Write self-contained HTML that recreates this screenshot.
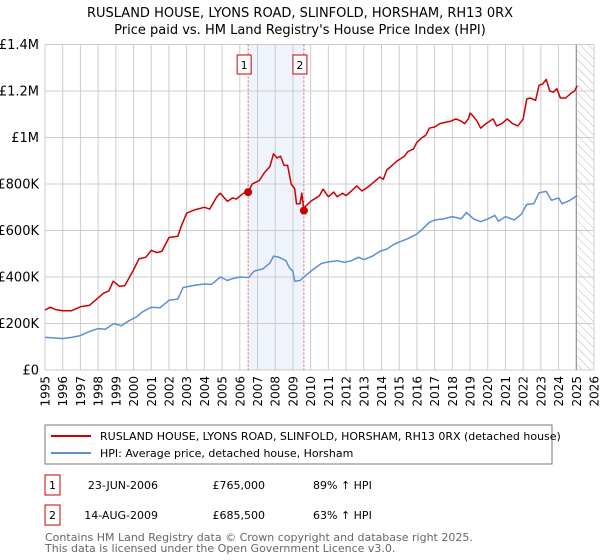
<!DOCTYPE html>
<html><head><meta charset="utf-8"><style>
body{margin:0;background:#fff;font-family:"DejaVu Sans","Liberation Sans",sans-serif;}
svg{display:block}
</style></head><body>
<svg id="c" width="600" height="560" xmlns="http://www.w3.org/2000/svg">
<defs><pattern id="hatch" width="6" height="6" patternUnits="userSpaceOnUse" patternTransform="rotate(-45)"><line x1="0" y1="0" x2="0" y2="6" stroke="#bbb" stroke-width="1"/></pattern></defs>
<text x="300" y="17" text-anchor="middle" font-size="13" fill="#000">RUSLAND HOUSE, LYONS ROAD, SLINFOLD, HORSHAM, RH13 0RX</text>
<text x="300" y="34" text-anchor="middle" font-size="13" fill="#000">Price paid vs. HM Land Registry's House Price Index (HPI)</text>
<g id="plot"></g>
<rect x="45" y="425" width="507" height="39" fill="#fff" stroke="#777"/>
<line x1="51" y1="436" x2="91" y2="436" stroke="#cc0000" stroke-width="2"/>
<text x="100" y="440" font-size="11">RUSLAND HOUSE, LYONS ROAD, SLINFOLD, HORSHAM, RH13 0RX (detached house)</text>
<line x1="51" y1="453" x2="91" y2="453" stroke="#5b8fd4" stroke-width="2"/>
<text x="100" y="457" font-size="11">HPI: Average price, detached house, Horsham</text>
<g font-size="11">
<rect x="45" y="475" width="15" height="20" fill="#fff" stroke="#cc0000"/>
<text x="52.5" y="489" text-anchor="middle">1</text>
<text x="158" y="489" text-anchor="end">23-JUN-2006</text>
<text x="265" y="489" text-anchor="end">£765,000</text>
<text x="313" y="489">89% ↑ HPI</text>
<rect x="45" y="505" width="15" height="20" fill="#fff" stroke="#cc0000"/>
<text x="52.5" y="519" text-anchor="middle">2</text>
<text x="158" y="519" text-anchor="end">14-AUG-2009</text>
<text x="265" y="519" text-anchor="end">£685,500</text>
<text x="313" y="519">63% ↑ HPI</text>
</g>
<text x="45" y="541" font-size="11" fill="#666">Contains HM Land Registry data © Crown copyright and database right 2025.</text>
<text x="45" y="552" font-size="11" fill="#666">This data is licensed under the Open Government Licence v3.0.</text>
</svg>
<script>
const yTicks=[0,200000,400000,600000,800000,1000000,1200000,1400000];
const yTickLabels=["£0","£200K","£400K","£600K","£800K","£1M","£1.2M","£1.4M"];
const xYears=[1995,1996,1997,1998,1999,2000,2001,2002,2003,2004,2005,2006,2007,2008,2009,2010,2011,2012,2013,2014,2015,2016,2017,2018,2019,2020,2021,2022,2023,2024,2025,2026];
const saleDates=[2006.47,2009.62];
const salePrices=[765000,685500];
const propT=[1995.0,1995.3,1995.6,1996.0,1996.5,1997.0,1997.5,1998.0,1998.3,1998.6,1998.85,1999.2,1999.5,2000.0,2000.3,2000.7,2001.0,2001.3,2001.6,2002.0,2002.5,2002.7,2003.0,2003.5,2004.0,2004.3,2004.7,2004.9,2005.3,2005.6,2005.8,2006.2,2006.47,2006.7,2007.1,2007.4,2007.7,2007.9,2008.1,2008.3,2008.5,2008.7,2008.9,2009.1,2009.2,2009.4,2009.5,2009.62,2009.7,2010.0,2010.5,2010.7,2011.0,2011.3,2011.5,2011.8,2012.0,2012.3,2012.6,2012.9,2013.2,2013.6,2013.9,2014.1,2014.3,2014.6,2014.9,2015.3,2015.5,2015.8,2016.0,2016.3,2016.5,2016.7,2017.0,2017.3,2017.6,2017.9,2018.2,2018.5,2018.7,2018.9,2019.0,2019.2,2019.4,2019.6,2019.9,2020.3,2020.5,2020.8,2021.1,2021.4,2021.7,2022.0,2022.2,2022.4,2022.7,2022.9,2023.1,2023.3,2023.5,2023.7,2023.9,2024.1,2024.4,2024.7,2024.9,2025.05];
const propV=[258000,270000,260000,255000,255000,272000,278000,310000,330000,340000,382000,360000,362000,430000,478000,485000,515000,505000,510000,570000,575000,620000,675000,690000,700000,692000,745000,760000,725000,740000,735000,760000,765000,800000,815000,850000,875000,930000,912000,920000,880000,880000,800000,780000,715000,715000,760000,685500,703000,725000,750000,778000,745000,765000,745000,760000,750000,770000,792000,770000,785000,810000,830000,820000,860000,880000,900000,920000,940000,950000,980000,1000000,1010000,1040000,1045000,1060000,1065000,1070000,1080000,1070000,1060000,1080000,1105000,1090000,1070000,1040000,1060000,1080000,1050000,1060000,1080000,1060000,1050000,1080000,1165000,1170000,1160000,1225000,1230000,1250000,1200000,1195000,1210000,1170000,1170000,1190000,1200000,1222000];
const hpiT=[1995.0,1995.5,1996.0,1996.5,1997.0,1997.5,1998.0,1998.4,1998.9,1999.3,1999.7,2000.2,2000.5,2001.0,2001.5,2002.0,2002.5,2002.8,2003.5,2004.0,2004.4,2004.9,2005.3,2005.6,2006.0,2006.5,2006.8,2007.3,2007.7,2007.9,2008.2,2008.6,2008.8,2009.0,2009.1,2009.4,2009.7,2010.1,2010.6,2011.0,2011.5,2011.9,2012.3,2012.7,2013.0,2013.5,2013.9,2014.3,2014.7,2015.0,2015.5,2016.0,2016.3,2016.7,2017.0,2017.5,2018.0,2018.5,2018.8,2019.2,2019.6,2020.0,2020.4,2020.6,2021.0,2021.5,2021.9,2022.2,2022.6,2022.9,2023.3,2023.6,2024.0,2024.2,2024.6,2025.05];
const hpiV=[140000,138000,135000,140000,148000,165000,178000,175000,200000,190000,210000,230000,250000,270000,268000,300000,305000,355000,365000,370000,368000,400000,385000,393000,400000,398000,425000,435000,460000,490000,485000,470000,440000,425000,382000,385000,405000,430000,458000,465000,470000,463000,470000,485000,475000,490000,510000,520000,540000,550000,565000,585000,605000,635000,645000,650000,660000,650000,678000,650000,638000,650000,665000,640000,660000,645000,670000,712000,715000,762000,768000,730000,740000,715000,728000,750000];

const L=45,R=594,T=44.5,B=370,x0=1995,x1=2026,yMax=1400000;
const X=t=>L+(t-x0)/(x1-x0)*(R-L);
const Y=v=>B-v/yMax*(B-T);
const NS="http://www.w3.org/2000/svg";
const g=document.getElementById('plot');
function mk(tag,attrs,parent){const e=document.createElementNS(NS,tag);for(const k in attrs)e.setAttribute(k,attrs[k]);(parent||g).appendChild(e);return e;}

let e=mk('rect',{x:X(saleDates[0]),y:T,width:X(saleDates[1])-X(saleDates[0]),height:B-T,fill:'#eef3fc'});


e=mk('rect',{x:X(2025),y:T,width:R-X(2025),height:B-T,fill:'url(#hatch)'});



xYears.forEach(yr=>{
  const l=mk('line',{x1:X(yr),x2:X(yr),y1:T,y2:B,stroke:'#ccc','stroke-width':1});
  
  
  const t=mk('text',{x:0,y:0,'font-size':12,'text-anchor':'end',transform:`translate(${X(yr)+4.5},${B+6}) rotate(-90)`});
  t.textContent=yr;
  
  
});
yTicks.forEach((v,i)=>{
  const l=mk('line',{x1:L,x2:R,y1:Y(v),y2:Y(v),stroke:'#ccc','stroke-width':1});
  
  
  const t=mk('text',{x:L-6,y:Y(v)+4.5,'font-size':13,'text-anchor':'end'});
  t.textContent=yTickLabels[i];
  
  
});
e=mk('line',{x1:X(2025),x2:X(2025),y1:T,y2:B,stroke:'#888','stroke-width':1});



saleDates.forEach((d,i)=>{
  const l=mk('line',{x1:X(d),x2:X(d),y1:T,y2:B,stroke:'#e06060','stroke-width':1,'stroke-dasharray':'2,2'});
  
  
  const r=mk('rect',{x:X(d)-11,y:55,width:14,height:19,fill:'#fff',stroke:'#cc0000'});
  
  
  const t=mk('text',{x:X(d)-4,y:69,'font-size':11,'text-anchor':'middle'});
  t.textContent=String(i+1);
  
  
});

function path(ts,vs){return ts.map((t,i)=>(i?'L':'M')+X(t).toFixed(1)+','+Y(vs[i]).toFixed(1)).join('');}
e=mk('path',{d:path(hpiT,hpiV),fill:'none',stroke:'#5b8fd4','stroke-width':1.5,'stroke-linejoin':'round'});


e=mk('path',{d:path(propT,propV),fill:'none',stroke:'#cc0000','stroke-width':1.5,'stroke-linejoin':'round'});


saleDates.forEach((d,i)=>{
  const c=mk('circle',{cx:X(d),cy:Y(salePrices[i]),r:4,fill:'#cc0000'});
  
  
});
</script>
</body></html>
